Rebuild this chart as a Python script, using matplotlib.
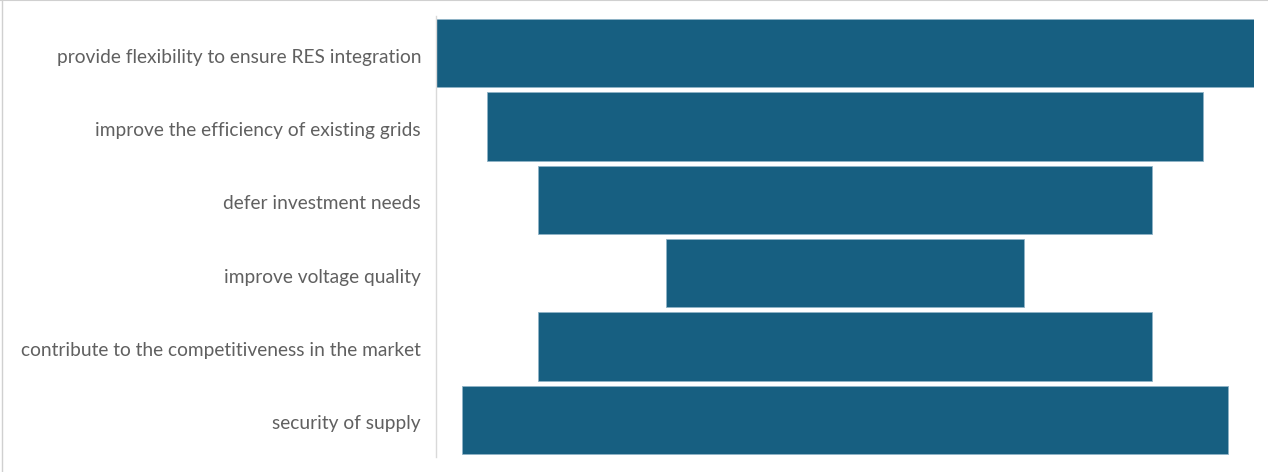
import numpy as np
import matplotlib.pyplot as plt
import matplotlib.transforms as mtransforms

# data (funnel-style centred bars)
labels = ["provide flexibility to ensure RES integration",
          "improve the efficiency of existing grids",
          "defer investment needs",
          "improve voltage quality",
          "contribute to the competitiveness in the market",
          "security of supply"]
values = [16, 14, 12, 7, 12, 15]

plt.rcParams['font.family'] = ['Lato', 'DejaVu Sans']

fig = plt.figure(figsize=(12.68, 4.72), dpi=100)
W, H = 1268, 472
ax = fig.add_axes([436 / W, 1 - 456.7 / H, (1254 - 436) / W, (456.7 - 16.3) / H])

vmax = max(values)
y = np.arange(len(values))
left = [(vmax - v) / 2 for v in values]
ax.barh(y, values, left=left, height=0.93, color='#175f81',
        edgecolor='#8fb3c7', linewidth=0.6)

ax.set_xlim(0, vmax)
ax.set_ylim(len(values) - 0.5, -0.5)
ax.set_yticks(y)
ax.set_yticklabels(labels, fontsize=13.8, color='#606060')
ax.tick_params(axis='y', length=0, pad=10.8)
# nudge labels down a little
offset = mtransforms.ScaledTranslation(0, -2.5 / 100, fig.dpi_scale_trans)
for t in ax.get_yticklabels():
    t.set_transform(t.get_transform() + offset)
ax.set_xticks([])
for s in ['top', 'right', 'bottom']:
    ax.spines[s].set_visible(False)
ax.spines['left'].set_color('#d9d9d9')
ax.spines['left'].set_linewidth(1)

# light frame of the chart area
fig.add_artist(plt.Line2D([0, 1], [0.999, 0.999], transform=fig.transFigure,
                          color='#d0d0d0', lw=1.5))
fig.add_artist(plt.Line2D([0.0015, 0.0015], [0, 1], transform=fig.transFigure,
                          color='#d0d0d0', lw=1))

fig.savefig('out.png', dpi=100)
